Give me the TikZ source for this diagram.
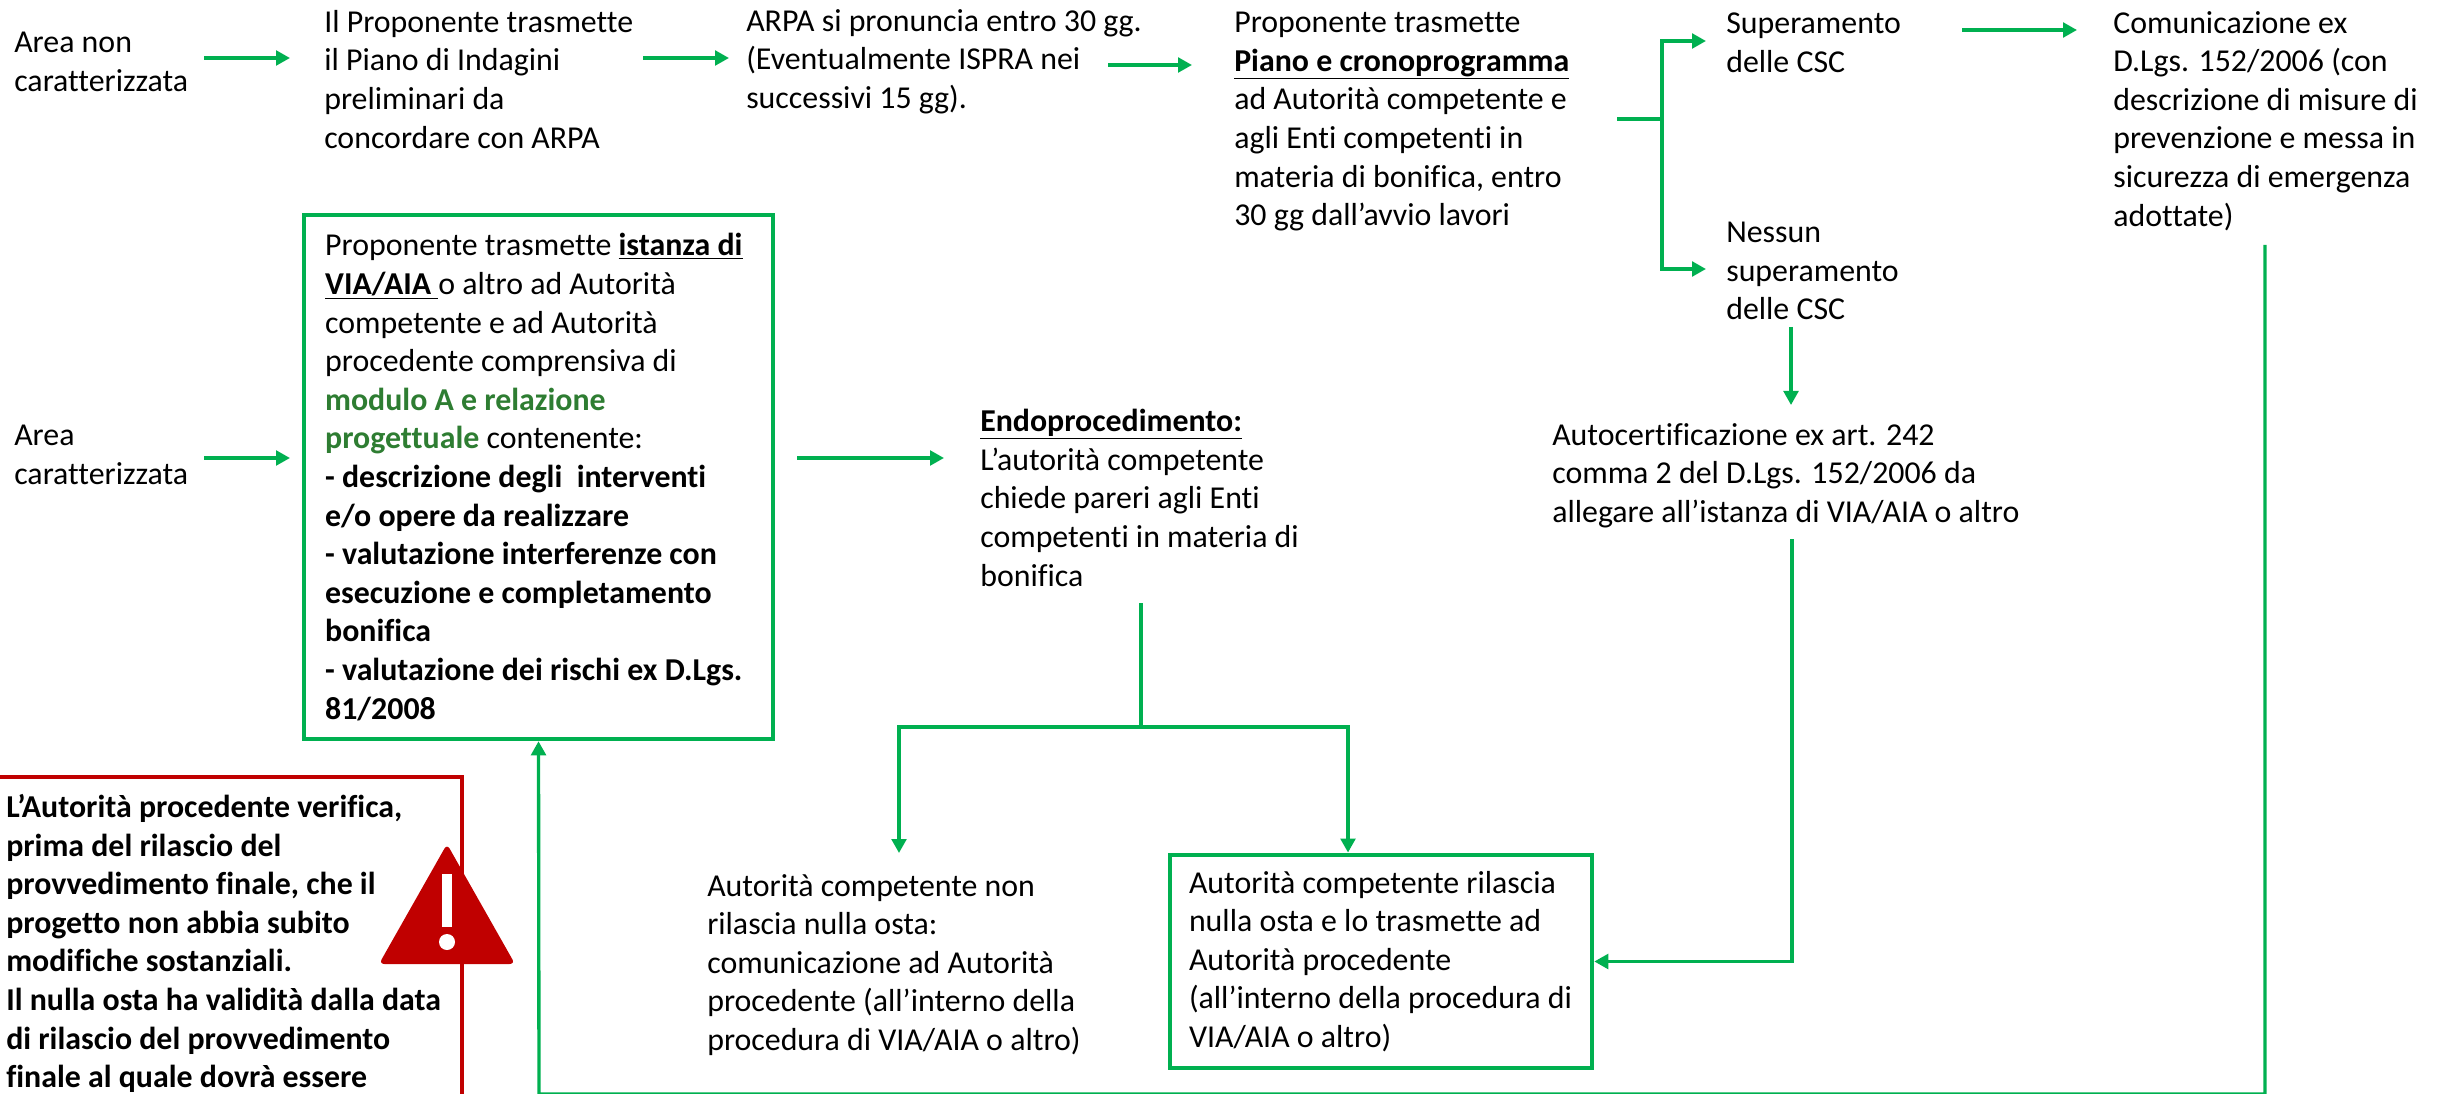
\documentclass[tikz,border=0pt]{standalone}
\usepackage{fontspec}
\setmainfont[Ligatures=NoCommon]{Carlito}
\usepackage{tikz}
\usetikzlibrary{arrows.meta}
\definecolor{flowgreen}{HTML}{00B050}
\definecolor{modgreen}{HTML}{2E7D32}
\definecolor{warnred}{HTML}{C00000}
\tikzset{
	txt/.style={anchor=north west, inner sep=0pt, align=left, font=\fontsize{23.9}{28.95}\selectfont, execute at begin node=\strut},
	flow/.style={draw=flowgreen, line width=2.5pt, -{Triangle[length=10.5pt,width=11pt]}},
	flowline/.style={draw=flowgreen, line width=2.5pt},
	gbox/.style={draw=flowgreen, line width=3.4pt, inner sep=0pt, align=flush left, font=\fontsize{23.9}{28.95}\selectfont}
}

\begin{document}
\begin{tikzpicture}[x=0.75pt,y=-0.75pt]
	\useasboundingbox (0,0) rectangle (2443,1094);
	\clip (0,0) rectangle (2443,1094);

	% Warning box, cut by the page
	\draw[warnred, line width=3pt] (-5,777) -- (462,777) -- (462,1100);
	\node[txt] (verifica) at (6,794) {\textbf{L’Autorità procedente verifica,}\\\textbf{prima del rilascio del}\\\textbf{provvedimento finale, che il}\\\textbf{progetto non abbia subito}\\\textbf{modifiche sostanziali.}\\\textbf{Il nulla osta ha validità dalla data}\\\textbf{di rilascio del provvedimento}\\\textbf{finale al quale dovrà essere}};
	\fill[warnred, rounded corners=4pt] (447,844) -- (515,964) -- (379,964) -- cycle;
	\fill[white] (442,874) rectangle (452,927);
	\fill[white] (447,942) circle (8);

	% Top row
	\node[txt] (nonchar) at (14,32) {Area non\\caratterizzata};
	\node[txt] (piano) at (324,10) {Il Proponente trasmette\\il Piano di Indagini\\preliminari da\\concordare con ARPA};
	\node[txt] (arpa) at (746,9) {ARPA si pronuncia entro 30 gg.\\(Eventualmente ISPRA nei\\successivi 15 gg).};
	\node[txt] (crono) at (1234,12) {Proponente trasmette\\\underline{\textbf{Piano e cronoprogramma}}\\ad Autorità competente e\\agli Enti competenti in\\materia di bonifica, entro\\30 gg dall’avvio lavori};
	\node[txt] (supera) at (1726,13) {Superamento\\delle CSC};
	\node[txt] (nessun) at (1726,222) {Nessun\\superamento\\delle CSC};
	\node[txt] (comunica) at (2113,11) {Comunicazione ex\\D.Lgs. 152/2006 (con\\descrizione di misure di\\prevenzione e messa in\\sicurezza di emergenza\\adottate)};

	% Middle row
	\node[txt] (char) at (14,425) {Area\\caratterizzata};
	\node[gbox, minimum width=351.5pt, minimum height=393pt, text width=320pt] (istanza) at (538.5,477) {Proponente trasmette \underline{\textbf{istanza di}}\\\underline{\textbf{VIA/AIA\ }}o altro ad Autorità\\competente e ad Autorità\\procedente comprensiva di\\\textcolor{modgreen}{\textbf{modulo A e relazione}}\\\textcolor{modgreen}{\textbf{progettuale}} contenente:\\\textbf{- descrizione degli\ \ interventi}\\\textbf{e/o opere da realizzare}\\\textbf{- valutazione interferenze con}\\\textbf{esecuzione e completamento}\\\textbf{bonifica}\\\textbf{- valutazione dei rischi ex D.Lgs.}\\\textbf{81/2008}};
	\node[txt] (endo) at (980,409) {\underline{\textbf{Endoprocedimento:}}\\L’autorità competente\\chiede pareri agli Enti\\competenti in materia di\\bonifica};
	\node[txt] (autocert) at (1552,423) {Autocertificazione ex art. 242\\comma 2 del D.Lgs. 152/2006 da\\allegare all’istanza di VIA/AIA o altro};

	% Bottom row
	\node[txt] (norilascio) at (707,874) {Autorità competente non\\rilascia nulla osta:\\comunicazione ad Autorità\\procedente (all’interno della\\procedura di VIA/AIA o altro)};
	\node[gbox, minimum width=316.5pt, minimum height=160pt, text width=288pt] (rilascio) at (1381,961.5) {Autorità competente rilascia\\nulla osta e lo trasmette ad\\Autorità procedente\\(all’interno della procedura di\\VIA/AIA o altro)};

	% Free ends of the arrows
	\coordinate (a1) at (204,58);
	\coordinate (a2) at (290,58);
	\coordinate (b1) at (643,58);
	\coordinate (b2) at (729,58);
	\coordinate (c1) at (1108,65);
	\coordinate (c2) at (1192,65);
	\coordinate (fork) at (1662,119);
	\coordinate (d0) at (1617,119);
	\coordinate (d1) at (1706,41);
	\coordinate (d2) at (1706,269);
	\coordinate (e1) at (1962,30);
	\coordinate (e2) at (2077,30);
	\coordinate (f1) at (1791,327);
	\coordinate (f2) at (1791,405);
	\coordinate (g1) at (204,458);
	\coordinate (g2) at (290,458);
	\coordinate (h1) at (797,458);
	\coordinate (h2) at (944,458);
	\coordinate (i1) at (1141,603);
	\coordinate (i2) at (1141,727);
	\coordinate (j1) at (899,727);
	\coordinate (j2) at (899,853);
	\coordinate (k1) at (1348,727);
	\coordinate (l1) at (1792,539);
	\coordinate (m1) at (2265,245);
	\coordinate (m2) at (2265,1094);
	\coordinate (m3) at (539,1094);

	%Arrows
	\draw[flow] (a1) -- (a2);
	\draw[flow] (b1) -- (b2);
	\draw[flow] (c1) -- (c2);
	\draw[flowline] (d0) -- (fork);
	\draw[flow] (fork) |- (d1);
	\draw[flow] (fork) |- (d2);
	\draw[flow] (e1) -- (e2);
	\draw[flow] (f1) -- (f2);
	\draw[flow] (g1) -- (g2);
	\draw[flow] (h1) -- (h2);
	\draw[flowline] (i1) -- (i2);
	\draw[flow] (i2) -- (j1) -- (j2);
	\draw[flow] (i2) -- (k1) -- (k1 |- rilascio.north);
	\draw[flow] (l1) |- (rilascio.east);
	\draw[flow] (m1) -- (m2) -- (m3) -- (istanza.south);
\end{tikzpicture}
\end{document}
